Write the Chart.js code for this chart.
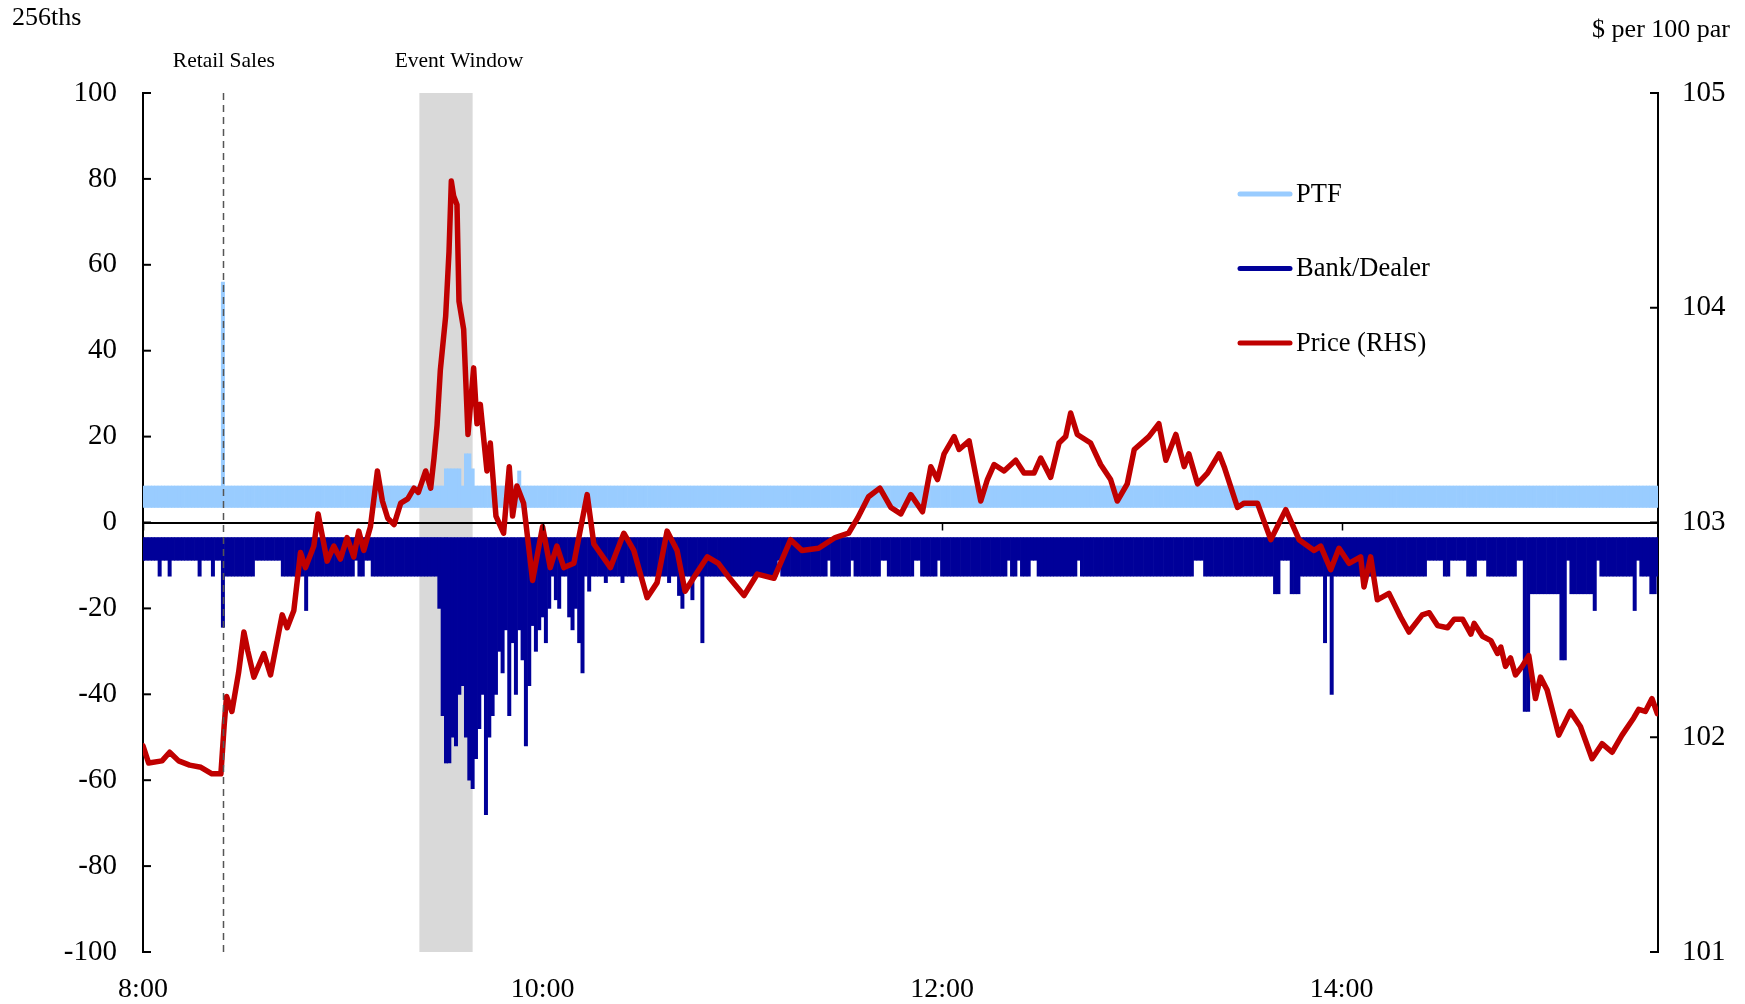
<!DOCTYPE html>
<html>
<head>
<meta charset="utf-8">
<script src="https://cdn.jsdelivr.net/npm/chart.js@4.4.0/dist/chart.umd.min.js"></script>
<style>
  html, body { margin: 0; padding: 0; background: #fff; }
  #wrap { width: 1745px; height: 1004px; }
</style>
</head>
<body>
<div id="wrap"><canvas id="flowChart" width="1745" height="1004"></canvas></div>
<script>
// time axis: minutes after 8:00
const endMinute = 455;
const tickMinutes = [0, 120, 240, 360];
const tickLabels = ['8:00', '10:00', '12:00', '14:00'];

const retailSalesMinute = 24;
const eventWindow = [83, 99];

// PTF net flow (256ths): usual spread per minute, plus the spikes
const ptfRange = [3.5, 8.5];
const ptfSpikeMin = [24, 91, 92, 93, 94, 95, 97, 98, 99, 113];
const ptfSpikeVal = [56, 12.5, 12.5, 12.5, 12.5, 12.5, 16, 16, 12.5, 12];

// Bank/Dealer net flow (256ths): usual spread, lower tiers by period, spikes
const bdRange = [-3.5, -8.8];
const bdTierStart = [5, 8, 17, 21, 25, 30, 42, 54, 60, 65, 69, 170, 192, 207, 214, 224, 234, 240, 245, 261, 264, 269, 282, 299, 319, 336, 340, 345, 347, 384, 391, 398, 404, 417, 424, 429, 432, 438, 450, 453, 454];
const bdTierEnd   = [5, 8, 17, 21, 29, 33, 53, 59, 63, 66, 170, 190, 205, 212, 221, 231, 238, 244, 259, 262, 266, 280, 298, 315, 335, 339, 341, 347, 383, 385, 392, 400, 412, 423, 425, 431, 435, 448, 452, 454, 455];
const bdTierLow   = [-12.5, -12.5, -12.5, -12.5, -12.5, -12.5, -12.5, -12.5, -12.5, -12.5, -12.5, -12.5, -12.5, -12.5, -12.5, -12.5, -12.5, -12.5, -12.5, -12.5, -12.5, -12.5, -12.5, -12.5, -12.5, -12.5, -16.6, -16.6, -12.5, -12.5, -12.5, -12.5, -12.5, -16.6, -16.6, -16.6, -16.6, -12.5, -12.5, -16.6, -12.5];
const bdSpikeMin = [24, 49, 89, 90, 91, 92, 93, 94, 95, 96, 97, 98, 99, 100, 101, 102, 103, 104, 105, 106, 107, 108, 109, 110, 111, 112, 113, 114, 115, 116, 117, 118, 119, 120, 121, 122, 124, 125, 128, 129, 130, 131, 132, 134, 139, 144, 158, 161, 162, 165, 168, 355, 357, 415, 416, 426, 427, 436, 448];
const bdSpikeVal = [-24.4, -20.5, -20, -45, -56, -56, -50, -52, -40, -38, -50, -60, -62, -55, -48, -40, -68, -50, -45, -40, -30, -35, -25, -45, -28, -40, -25, -32, -52, -38, -24, -30, -25, -22, -28, -20, -18, -20, -22, -25, -20, -28, -35, -16, -14, -14, -14, -17, -20, -18, -28, -28, -40, -44, -44, -32, -32, -20.5, -20.5];

// Price ($ per 100 par, RHS)
const priceMin = [0, 1.7, 5.7, 8, 10.7, 14, 17.4, 20.7, 23.4, 24.4, 25.1, 26.7, 28.7, 30.3, 31.5, 33.3, 36.3, 38.3, 41.8, 43.3, 45.3, 47.3, 48.8, 51.3, 52.6, 55.3, 57.3, 59.3, 61.3, 63.3, 64.8, 66.3, 68.3, 70.4, 71.9, 73.5, 75.4, 77.4, 79.5, 81.4, 82.7, 84.9, 86.4, 87.4, 88.3, 89.3, 90.9, 91.9, 92.6, 93.3, 94.3, 94.9, 96.3, 97.6, 99.3, 100.3, 101.3, 103.3, 104.3, 106, 108.3, 110, 111, 112.3, 114.3, 117, 120, 122.3, 124.3, 126.4, 129.4, 133.4, 135.4, 140.4, 144.4, 147.4, 151.4, 154.4, 157.4, 160.4, 162.8, 166.1, 169.5, 172.8, 176.2, 180.5, 184.5, 189.5, 194.5, 197.9, 202.9, 207.9, 211.9, 214.6, 217.9, 221.3, 224.6, 227.6, 230.6, 234.1, 236.6, 238.6, 240.6, 243.6, 245.1, 248.1, 251.6, 253.6, 255.6, 258.6, 262.1, 264.6, 267.6, 269.6, 272.6, 275.1, 277.1, 278.6, 280.6, 284.6, 287.6, 290.6, 292.6, 295.6, 297.7, 302.1, 305.1, 307.2, 310.2, 312.7, 314.1, 316.7, 319.7, 323.2, 324.7, 328.7, 330.7, 334.7, 338.7, 343.2, 347.2, 351.7, 353.7, 356.7, 359.2, 362.2, 365.7, 366.7, 368.7, 370.7, 374.2, 377.7, 380.2, 384.2, 386.3, 388.8, 391.8, 393.8, 396.3, 398.8, 399.8, 402.3, 404.8, 406.8, 407.8, 409.2, 410.7, 412.2, 414.2, 416.2, 418.2, 419.7, 421.7, 425.2, 428.7, 431.7, 435.2, 438.2, 441.2, 444.2, 447.7, 449.2, 451.2, 453.2, 454.8];
const priceVal = [101.96, 101.88, 101.89, 101.93, 101.89, 101.87, 101.86, 101.83, 101.83, 102.06, 102.19, 102.12, 102.30, 102.49, 102.40, 102.28, 102.39, 102.29, 102.57, 102.51, 102.59, 102.86, 102.79, 102.89, 103.04, 102.82, 102.89, 102.83, 102.93, 102.84, 102.96, 102.87, 102.98, 103.24, 103.10, 103.02, 102.99, 103.09, 103.11, 103.16, 103.14, 103.24, 103.16, 103.30, 103.45, 103.71, 103.96, 104.26, 104.59, 104.52, 104.48, 104.03, 103.90, 103.41, 103.72, 103.46, 103.55, 103.24, 103.37, 103.03, 102.95, 103.26, 103.03, 103.17, 103.09, 102.73, 102.98, 102.79, 102.89, 102.79, 102.81, 103.13, 102.90, 102.79, 102.95, 102.87, 102.65, 102.72, 102.96, 102.87, 102.68, 102.76, 102.84, 102.81, 102.74, 102.66, 102.76, 102.74, 102.92, 102.87, 102.88, 102.93, 102.95, 103.02, 103.12, 103.16, 103.07, 103.04, 103.13, 103.05, 103.26, 103.20, 103.32, 103.40, 103.34, 103.38, 103.10, 103.20, 103.27, 103.24, 103.29, 103.23, 103.23, 103.30, 103.21, 103.37, 103.40, 103.51, 103.41, 103.37, 103.27, 103.20, 103.10, 103.18, 103.34, 103.40, 103.46, 103.29, 103.41, 103.26, 103.32, 103.18, 103.23, 103.32, 103.26, 103.07, 103.09, 103.09, 102.92, 103.06, 102.92, 102.87, 102.89, 102.78, 102.88, 102.81, 102.84, 102.70, 102.84, 102.64, 102.67, 102.56, 102.49, 102.57, 102.58, 102.52, 102.51, 102.55, 102.55, 102.48, 102.53, 102.47, 102.45, 102.39, 102.42, 102.33, 102.37, 102.29, 102.33, 102.38, 102.18, 102.28, 102.22, 102.01, 102.12, 102.05, 101.90, 101.97, 101.93, 102.01, 102.09, 102.13, 102.12, 102.18, 102.11];

const colPTF = '#99ccff';
const colBD = '#000099';
const colPrice = '#c00000';
const serif = '"Liberation Serif", "Times New Roman", serif';

// build per-minute floating bars
const ptfData = [];
const bdData = [];
for (let m = 0; m <= endMinute; m++) {
    let top = ptfRange[1];
    const i = ptfSpikeMin.indexOf(m);
    if (i !== -1) top = ptfSpikeVal[i];
    ptfData.push({ x: m, y: [ptfRange[0], top] });

    let low = bdRange[1];
    bdTierStart.forEach((s, k) => {
        if (m >= s && m <= bdTierEnd[k]) low = Math.min(low, bdTierLow[k]);
    });
    const j = bdSpikeMin.indexOf(m);
    if (j !== -1) low = Math.min(low, bdSpikeVal[j]);
    bdData.push({ x: m, y: [bdRange[0], low] });
}
const priceData = priceMin.map((m, i) => ({ x: m, y: priceVal[i] }));

function setTicks(scale) {
    scale.ticks = tickMinutes.map(v => ({ value: v }));
}

// shading, markers, inward ticks, titles and legend
const decorations = {
    id: 'decorations',
    beforeDraw(chart) {
        const { ctx, chartArea, scales } = chart;
        const x0 = scales.x.getPixelForValue(eventWindow[0]);
        const x1 = scales.x.getPixelForValue(eventWindow[1]);
        ctx.save();
        ctx.fillStyle = '#d9d9d9';
        ctx.fillRect(x0, chartArea.top, x1 - x0, chartArea.bottom - chartArea.top);
        ctx.restore();
    },
    afterDatasetsDraw(chart) {
        const { ctx, chartArea, scales } = chart;
        const xr = Math.round(scales.x.getPixelForValue(retailSalesMinute)) + 0.5;
        ctx.save();
        ctx.strokeStyle = '#555';
        ctx.lineWidth = 1.5;
        ctx.setLineDash([7, 5]);
        ctx.beginPath();
        ctx.moveTo(xr, chartArea.top);
        ctx.lineTo(xr, chartArea.bottom);
        ctx.stroke();
        ctx.restore();
    },
    afterDraw(chart) {
        const { ctx, chartArea, scales } = chart;
        ctx.save();
        ctx.strokeStyle = '#000';
        ctx.lineWidth = 2;
        // inward tick marks on both value axes
        scales.y.ticks.forEach(t => {
            const y = scales.y.getPixelForValue(t.value);
            ctx.beginPath();
            ctx.moveTo(chartArea.left, y);
            ctx.lineTo(chartArea.left + 8, y);
            ctx.stroke();
        });
        scales.yR.ticks.forEach(t => {
            const y = scales.yR.getPixelForValue(t.value);
            ctx.beginPath();
            ctx.moveTo(chartArea.right, y);
            ctx.lineTo(chartArea.right - 8, y);
            ctx.stroke();
        });
        // time ticks hanging from the zero line
        const y0 = scales.y.getPixelForValue(0);
        ctx.lineWidth = 1.5;
        tickMinutes.forEach(m => {
            const x = Math.round(scales.x.getPixelForValue(m)) + 0.5;
            ctx.beginPath();
            ctx.moveTo(x, y0);
            ctx.lineTo(x, y0 + 8);
            ctx.stroke();
        });

        ctx.fillStyle = '#000';
        ctx.textBaseline = 'middle';
        ctx.font = '26px ' + serif;
        ctx.textAlign = 'left';
        ctx.fillText('256ths', 12, 18);
        ctx.textAlign = 'right';
        ctx.fillText('$ per 100 par', 1730, 30);

        ctx.font = '21.5px ' + serif;
        ctx.textAlign = 'center';
        ctx.fillText('Retail Sales', scales.x.getPixelForValue(retailSalesMinute) + 1, 61);
        const xe = (scales.x.getPixelForValue(eventWindow[0]) + scales.x.getPixelForValue(eventWindow[1])) / 2;
        ctx.fillText('Event Window', xe + 13, 61);

        // legend
        const items = [
            { label: 'PTF', color: colPTF },
            { label: 'Bank/Dealer', color: colBD },
            { label: 'Price (RHS)', color: colPrice }
        ];
        ctx.font = '26.5px ' + serif;
        ctx.textAlign = 'left';
        ctx.lineWidth = 5;
        ctx.lineCap = 'round';
        items.forEach((it, k) => {
            const y = 194 + k * 74.5;
            ctx.strokeStyle = it.color;
            ctx.beginPath();
            ctx.moveTo(1240, y);
            ctx.lineTo(1290, y);
            ctx.stroke();
            ctx.fillText(it.label, 1296, y + 1);
        });
        ctx.restore();
    }
};

Chart.defaults.font.family = serif;
Chart.defaults.color = '#000';

const ctx = document.getElementById('flowChart').getContext('2d');
const flowChart = new Chart(ctx, {
    type: 'bar',
    data: {
        datasets: [
            {
                type: 'line',
                label: 'Price (RHS)',
                data: priceData,
                xAxisID: 'x',
                yAxisID: 'yR',
                borderColor: colPrice,
                borderWidth: 5.5,
                borderJoinStyle: 'round',
                borderCapStyle: 'round',
                pointRadius: 0,
                tension: 0,
                order: 0
            },
            {
                label: 'Bank/Dealer',
                data: bdData,
                xAxisID: 'x',
                yAxisID: 'y',
                backgroundColor: colBD,
                borderWidth: 0,
                grouped: false,
                barPercentage: 1,
                categoryPercentage: 1,
                order: 1
            },
            {
                label: 'PTF',
                data: ptfData,
                xAxisID: 'x',
                yAxisID: 'y',
                backgroundColor: colPTF,
                borderWidth: 0,
                grouped: false,
                barPercentage: 1,
                categoryPercentage: 1,
                order: 2
            }
        ]
    },
    options: {
        responsive: false,
        devicePixelRatio: 1,
        animation: false,
        layout: { padding: { top: 93, left: 0, right: 0, bottom: 0 } },
        plugins: {
            legend: { display: false },
            tooltip: { enabled: false }
        },
        scales: {
            x: {
                type: 'linear',
                min: 0,
                max: endMinute,
                offset: false,
                position: 'bottom',
                afterBuildTicks: setTicks,
                afterFit: s => { s.height = 52; },
                ticks: {
                    callback: v => tickLabels[tickMinutes.indexOf(v)],
                    font: { size: 28 },
                    padding: 13,
                    maxRotation: 0,
                    autoSkip: false
                },
                grid: { display: false },
                border: { display: false }
            },
            xZero: {
                type: 'linear',
                axis: 'x',
                min: 0,
                max: endMinute,
                position: { y: 0 },
                afterBuildTicks: setTicks,
                ticks: { display: false },
                grid: { display: true, drawOnChartArea: false, drawTicks: false },
                border: { display: true, color: '#000', width: 2 }
            },
            y: {
                position: 'left',
                min: -100,
                max: 100,
                afterFit: s => { s.width = 143; },
                ticks: { stepSize: 20, font: { size: 29 }, padding: 18 },
                grid: { display: false },
                border: { display: true, color: '#000', width: 2 }
            },
            yR: {
                position: 'right',
                min: 101,
                max: 105,
                afterFit: s => { s.width = 87; },
                ticks: { stepSize: 1, font: { size: 29 }, padding: 16 },
                grid: { display: false },
                border: { display: true, color: '#000', width: 2 }
            }
        }
    },
    plugins: [decorations]
});
</script>
</body>
</html>
